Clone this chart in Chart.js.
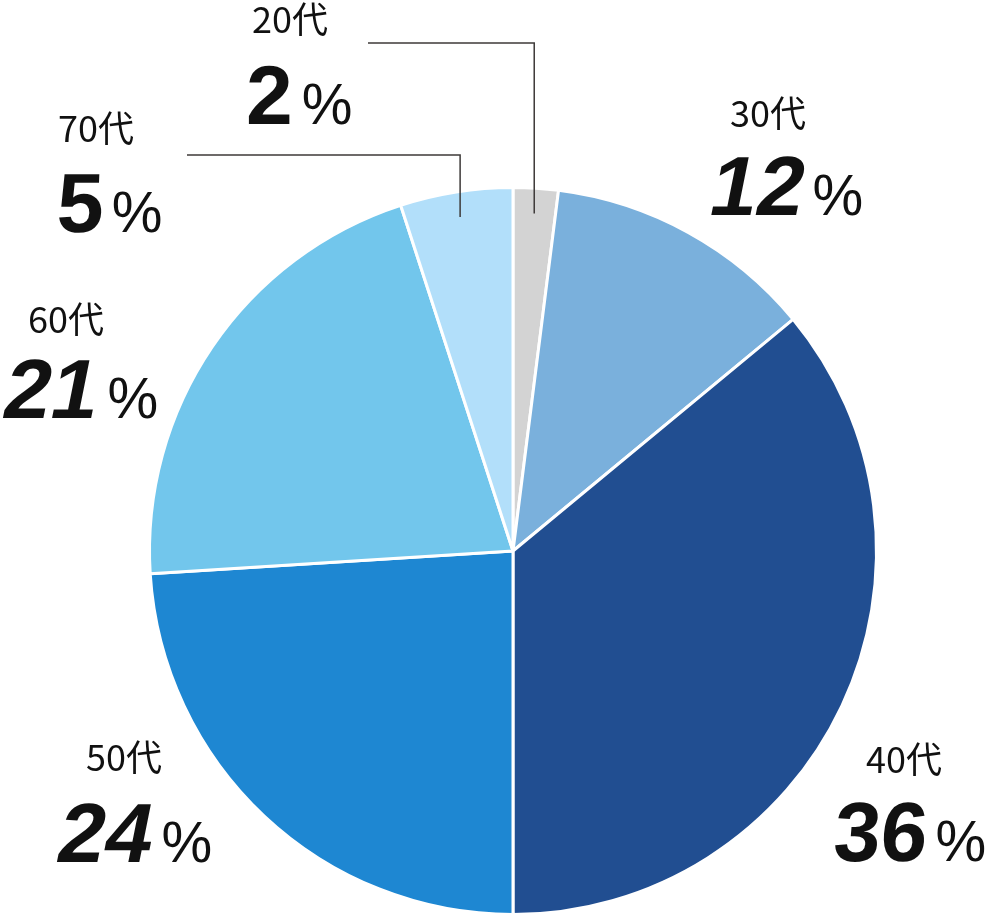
<!DOCTYPE html>
<html>
<head>
<meta charset="utf-8">
<script src="https://cdn.jsdelivr.net/npm/chart.js@4"></script>
<style>
  html, body { margin: 0; padding: 0; background: #fff; }
  #wrap { width: 985px; height: 917px; position: relative; }
</style>
</head>
<body>
<div id="wrap"><canvas id="c"></canvas></div>
<script>
// ---- data ----
const categories = ['20代', '30代', '40代', '50代', '60代', '70代'];
const shares = [2, 12, 36, 24, 21, 5];
const sliceColors = ['#d3d3d3', '#7ab0dc', '#214e91', '#1e87d2', '#72c6ec', '#b2dffa'];

// ---- label layout (text anchors, left aligned, baselines, slant, gap before %) ----
const labelLayout = [
  { lx: 252, ly: 33,  nx: 246, ny: 124, slant: 0,    gap: 9 },
  { lx: 730, ly: 127, nx: 706, ny: 215, slant: 0.2,  gap: 13 },
  { lx: 866, ly: 773, nx: 832, ny: 861, slant: 0.08, gap: 10 },
  { lx: 86,  ly: 771, nx: 54,  ny: 862, slant: 0.2,  gap: 14 },
  { lx: 28,  ly: 333, nx: 0,   ny: 418, slant: 0.2,  gap: 14 },
  { lx: 58,  ly: 142, nx: 56,  ny: 232, slant: 0.04, gap: 9 }
];
// leader lines: slice index, elbow y, horizontal start x
const leaders = [
  { index: 0, elbowY: 43,  startX: 368 },
  { index: 5, elbowY: 155, startX: 187 }
];

const labelPlugin = {
  id: 'labels',
  afterDraw(chart) {
    const ctx = chart.ctx;
    const meta = chart.getDatasetMeta(0);
    ctx.save();
    // leader lines
    ctx.strokeStyle = '#3e3a39';
    ctx.lineWidth = 1.5;
    leaders.forEach(l => {
      const arc = meta.data[l.index];
      const mid = (arc.startAngle + arc.endAngle) / 2;
      const r = arc.outerRadius * 0.93;
      const ex = arc.x + r * Math.cos(mid);
      const ey = arc.y + r * Math.sin(mid);
      ctx.beginPath();
      ctx.moveTo(l.startX, l.elbowY);
      ctx.lineTo(ex, l.elbowY);
      ctx.lineTo(ex, ey);
      ctx.stroke();
    });
    // texts
    ctx.fillStyle = '#111';
    ctx.textAlign = 'left';
    ctx.textBaseline = 'alphabetic';
    categories.forEach((cat, i) => {
      const p = labelLayout[i];
      ctx.font = '400 36px "Noto Sans CJK JP"';
      ctx.fillText(cat, p.lx, p.ly);
      const num = String(shares[i]);
      ctx.font = '700 84px "Liberation Sans"';
      const w = ctx.measureText(num).width;
      ctx.save();
      ctx.translate(p.nx, p.ny);
      ctx.transform(1, 0, -p.slant, 1, 0, 0);
      ctx.fillText(num, 0, 0);
      ctx.restore();
      ctx.font = '400 57px "Liberation Sans"';
      ctx.fillText('%', p.nx + w + p.gap, p.ny);
    });
    ctx.restore();
  }
};

new Chart(document.getElementById('c'), {
  type: 'pie',
  data: {
    labels: categories,
    datasets: [{
      data: shares,
      backgroundColor: sliceColors,
      borderColor: '#ffffff',
      borderWidth: 3
    }]
  },
  options: {
    responsive: true,
    maintainAspectRatio: false,
    animation: false,
    layout: { padding: { left: 148, right: 107, top: 186, bottom: 1 } },
    plugins: { legend: { display: false }, tooltip: { enabled: false } }
  },
  plugins: [labelPlugin]
});
</script>
</body>
</html>
